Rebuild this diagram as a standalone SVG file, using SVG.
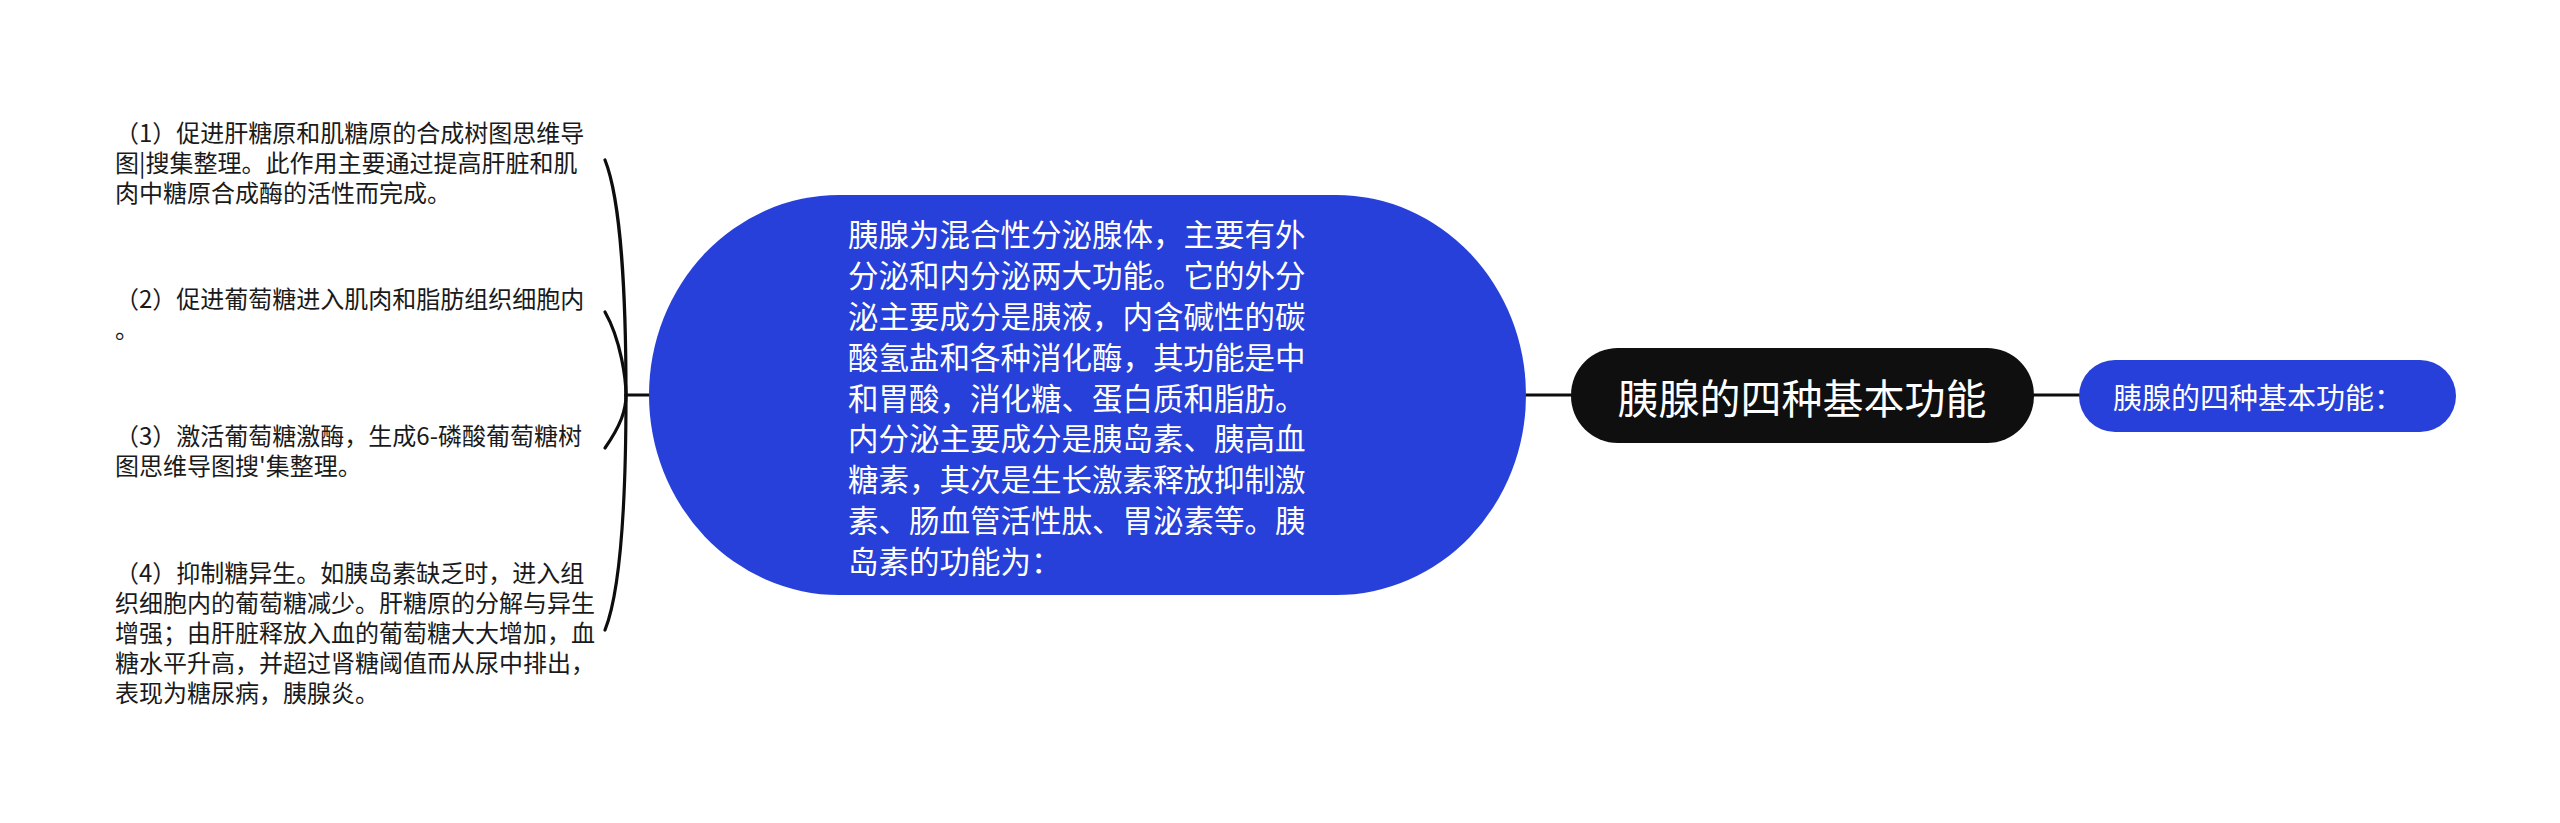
<svg xmlns="http://www.w3.org/2000/svg" width="2560" height="823" viewBox="0 0 2560 823">
<style>
.t{font-family:"Noto Sans CJK SC","Noto Sans",sans-serif;dominant-baseline:central}
.leaf{font-size:24px;fill:#1a1a1a}
.big{font-size:30.5px;fill:#ffffff}
.root{font-size:41px;fill:#ffffff}
.sub{font-size:29px;fill:#ffffff}
.c{fill:none;stroke:#0d0d0d;stroke-width:3.2;stroke-linecap:round}
</style>
<rect width="2560" height="823" fill="#ffffff"/>
<g id="connectors">
<path class="c" d="M649 395 L626 395"/>
<path class="c" d="M626 395 C626 300 621 200 605 160"/>
<path class="c" d="M626 395 C626 380 621 340 605 312"/>
<path class="c" d="M626 395 C626 410 621 425 605 448"/>
<path class="c" d="M626 395 C626 500 621 590 605 630"/>
<path class="c" d="M1526 395 L1571 395"/>
<path class="c" d="M2034 395 L2079 395"/>
</g>
<g id="item1">
<text class="t leaf" x="115" y="131">（1）促进肝糖原和肌糖原的合成树图思维导</text>
<text class="t leaf" x="115" y="161">图|搜集整理。此作用主要通过提高肝脏和肌</text>
<text class="t leaf" x="115" y="191">肉中糖原合成酶的活性而完成。</text>
</g>
<g id="item2">
<text class="t leaf" x="115" y="297">（2）促进葡萄糖进入肌肉和脂肪组织细胞内</text>
<text class="t leaf" x="115" y="327">。</text>
</g>
<g id="item3">
<text class="t leaf" x="115" y="434">（3）激活葡萄糖激酶，生成6-磷酸葡萄糖树</text>
<text class="t leaf" x="115" y="464">图思维导图搜'集整理。</text>
</g>
<g id="item4">
<text class="t leaf" x="115" y="571">（4）抑制糖异生。如胰岛素缺乏时，进入组</text>
<text class="t leaf" x="115" y="601">织细胞内的葡萄糖减少。肝糖原的分解与异生</text>
<text class="t leaf" x="115" y="631">增强；由肝脏释放入血的葡萄糖大大增加，血</text>
<text class="t leaf" x="115" y="661">糖水平升高，并超过肾糖阈值而从尿中排出，</text>
<text class="t leaf" x="115" y="691">表现为糖尿病，胰腺炎。</text>
</g>
<g id="desc">
<rect x="649" y="195" width="877" height="400" rx="190" ry="200" fill="#2640d9"/>
<text class="t big" x="848" y="233">胰腺为混合性分泌腺体，主要有外</text>
<text class="t big" x="848" y="274">分泌和内分泌两大功能。它的外分</text>
<text class="t big" x="848" y="315">泌主要成分是胰液，内含碱性的碳</text>
<text class="t big" x="848" y="356">酸氢盐和各种消化酶，其功能是中</text>
<text class="t big" x="848" y="397">和胃酸，消化糖、蛋白质和脂肪。</text>
<text class="t big" x="848" y="437">内分泌主要成分是胰岛素、胰高血</text>
<text class="t big" x="848" y="478">糖素，其次是生长激素释放抑制激</text>
<text class="t big" x="848" y="519">素、肠血管活性肽、胃泌素等。胰</text>
<text class="t big" x="848" y="560">岛素的功能为：</text>
</g>
<g id="root">
<rect x="1571" y="348" width="463" height="95" rx="47" ry="47" fill="#0f0f0f"/>
<text class="t root" x="1802" y="396" text-anchor="middle">胰腺的四种基本功能</text>
</g>
<g id="sub">
<rect x="2079" y="360" width="377" height="72" rx="36" ry="36" fill="#2640d9"/>
<text class="t sub" x="2113" y="396">胰腺的四种基本功能：</text>
</g>
</svg>
